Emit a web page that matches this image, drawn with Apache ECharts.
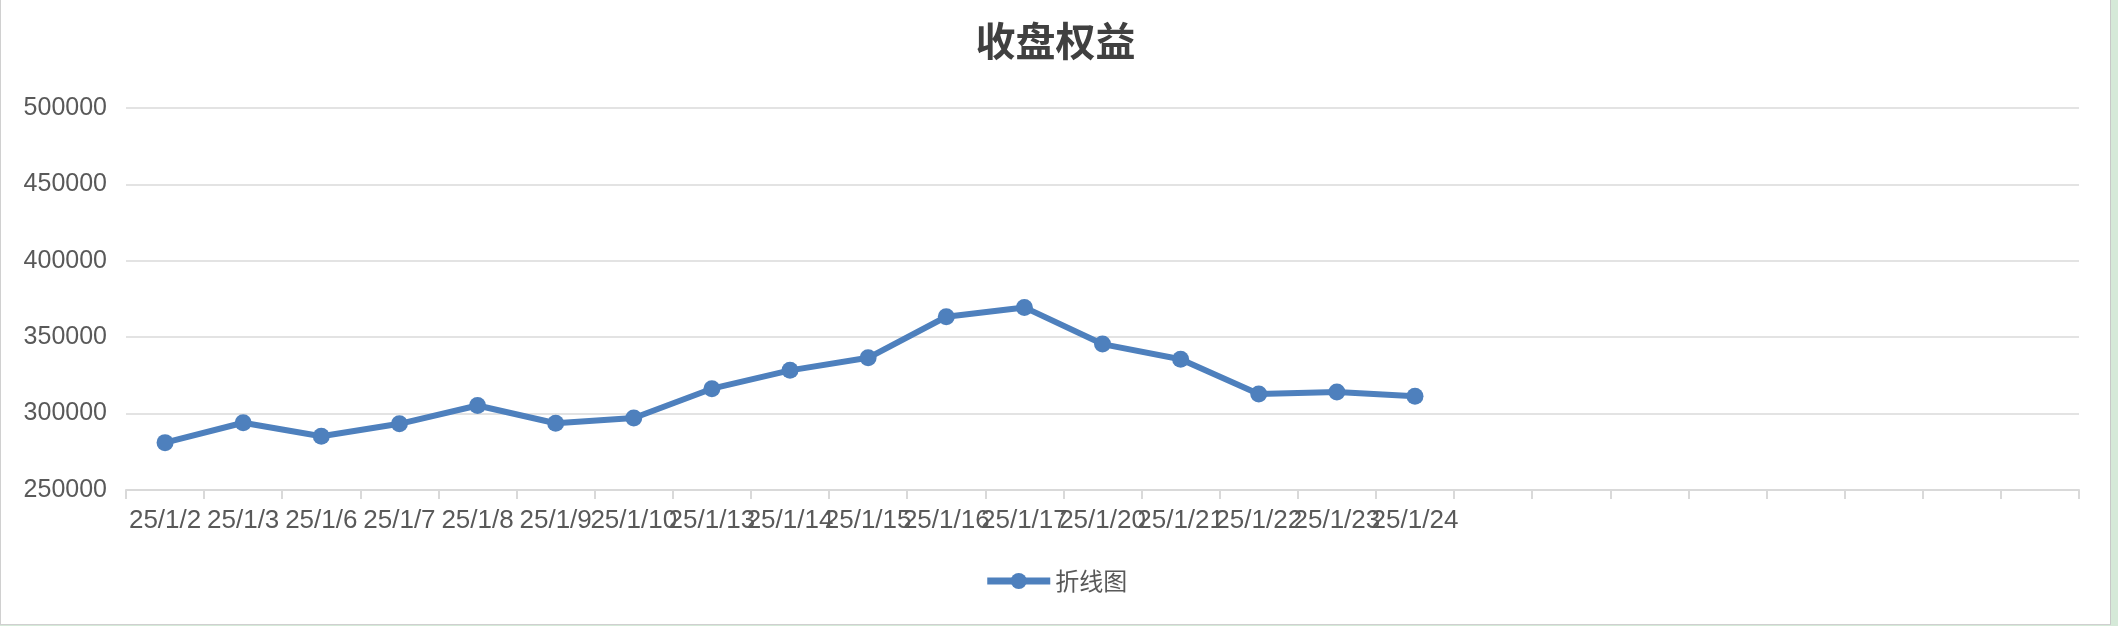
<!DOCTYPE html>
<html>
<head>
<meta charset="utf-8">
<title>收盘权益</title>
<script src="https://cdn.jsdelivr.net/npm/echarts@6/dist/echarts.min.js"></script>
<style>
    html, body { margin: 0; padding: 0; background: #d5e9d8; }
    #chart {
        width: 2111px; height: 625px; background: #fff;
        border-left: 1px solid #d0d0d0; border-bottom: 1px solid #d0d0d0; border-right: 1px solid #c8c8c8;
        box-sizing: border-box;
    }
</style>
</head>
<body>
<div id="chart"></div>
<script>
// 日期（后面 8 个空类目）
const dates = ['25/1/2', '25/1/3', '25/1/6', '25/1/7', '25/1/8', '25/1/9', '25/1/10',
    '25/1/13', '25/1/14', '25/1/15', '25/1/16', '25/1/17', '25/1/20', '25/1/21',
    '25/1/22', '25/1/23', '25/1/24', '', '', '', '', '', '', '', ''];
// 收盘权益
const equity = [281000, 294000, 285200, 293300, 305300, 293700, 297100,
    316300, 328300, 336500, 363400, 369500, 345500, 335600,
    312900, 314200, 311400];
const yTicks = { min: 250000, max: 500000, step: 50000 };

const chart = echarts.init(document.getElementById('chart'));
const labelColor = '#595959';
const lineColor = '#4e80bd';

chart.setOption({
    animation: false,
    title: {
        text: '收盘权益',
        left: 'center',
        top: 16,
        textStyle: { fontFamily: 'Noto Sans CJK SC', fontSize: 40, fontWeight: 'bold', color: '#404040' }
    },
    legend: {
        bottom: 26,
        left: 'center',
        itemWidth: 63,
        itemHeight: 20,
        itemGap: 10,
        lineStyle: { width: 7 },
        textStyle: { fontFamily: 'Noto Sans CJK SC', fontSize: 24, color: '#595959' },
        data: ['折线图']
    },
    grid: { left: 125, right: 31, top: 108, bottom: 134 },
    xAxis: {
        type: 'category',
        data: dates,
        boundaryGap: true,
        axisLine: { lineStyle: { color: '#d9d9d9', width: 2 } },
        axisTick: { show: true, length: 9, lineStyle: { color: '#d9d9d9', width: 2 } },
        axisLabel: { interval: 0, fontFamily: 'Liberation Sans', fontSize: 26, color: labelColor, margin: 18 }
    },
    yAxis: {
        type: 'value',
        min: yTicks.min,
        max: yTicks.max,
        interval: yTicks.step,
        axisLine: { show: false },
        axisTick: { show: false },
        axisLabel: {
            fontFamily: 'Liberation Sans', fontSize: 25, color: labelColor, margin: 19,
            formatter: v => String(v)
        },
        splitLine: { lineStyle: { color: '#e3e3e3', width: 2 } }
    },
    series: [{
        name: '折线图',
        type: 'line',
        data: equity,
        symbol: 'circle',
        symbolSize: 17,
        itemStyle: { color: lineColor },
        lineStyle: { color: lineColor, width: 6 }
    }]
});
</script>
</body>
</html>
